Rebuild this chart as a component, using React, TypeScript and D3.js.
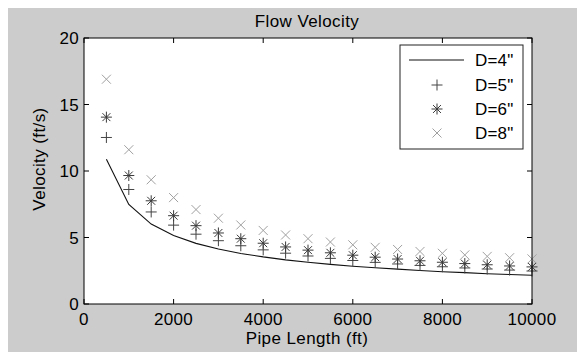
import React from "react";
import * as d3 from "d3";

const lengths = [500, 1000, 1500, 2000, 2500, 3000, 3500, 4000, 4500, 5000, 5500, 6000, 6500, 7000, 7500, 8000, 8500, 9000, 9500, 10000];
const v4 = [10.88, 7.48, 6.01, 5.15, 4.56, 4.13, 3.8, 3.54, 3.32, 3.14, 2.98, 2.84, 2.72, 2.62, 2.52, 2.43, 2.36, 2.28, 2.22, 2.16];
const v5 = [12.52, 8.61, 6.92, 5.93, 5.25, 4.76, 4.38, 4.07, 3.82, 3.61, 3.43, 3.27, 3.13, 3.01, 2.9, 2.8, 2.71, 2.63, 2.55, 2.48];
const v6 = [14.05, 9.66, 7.76, 6.64, 5.89, 5.34, 4.91, 4.57, 4.29, 4.05, 3.85, 3.67, 3.52, 3.38, 3.25, 3.14, 3.04, 2.95, 2.86, 2.79];
const v8 = [16.9, 11.6, 9.34, 8.0, 7.1, 6.45, 5.94, 5.53, 5.19, 4.91, 4.66, 4.45, 4.26, 4.1, 3.95, 3.81, 3.69, 3.58, 3.48, 3.39];

const xTicks = [0, 2000, 4000, 6000, 8000, 10000];
const yTicks = [0, 5, 10, 15, 20];
const legendLabels = ['D=4"', 'D=5"', 'D=6"', 'D=8"'];

const W = 577;
const H = 352;
const FONT = "'Liberation Sans', Arial, Helvetica, sans-serif";

function plusPath(cx: number, cy: number, r: number) {
  return `M${cx - r},${cy}H${cx + r}M${cx},${cy - r}V${cy + r}`;
}
function crossPath(cx: number, cy: number, r: number) {
  return `M${cx - r},${cy - r}L${cx + r},${cy + r}M${cx - r},${cy + r}L${cx + r},${cy - r}`;
}
function starPath(cx: number, cy: number, r: number) {
  const d = r * 0.72;
  return plusPath(cx, cy, r) + crossPath(cx, cy, d);
}

export default function App() {
  const x = d3.scaleLinear().domain([0, 10000]).range([84, 532]);
  const y = d3.scaleLinear().domain([0, 20]).range([304, 38]);
  const line = d3
    .line<number>()
    .x((_, i) => x(lengths[i]))
    .y((d) => y(d));

  const tickLen = 5;
  const [x0, x1] = x.range();
  const [y0, y1] = y.range();

  const lgX = 400, lgY = 45, lgW = 123, lgH = 104;
  const entryY = [60, 85, 109, 133];
  const markX = 437;
  const textX = 475;

  return (
    <svg
      width={W}
      height={H}
      style={{ position: "fixed", left: 0, top: 0, display: "block" }}
      fontFamily={FONT}
    >
      <rect x={0} y={0} width={W} height={H} fill="#ffffff" />
      <rect x={8} y={8} width={W - 8} height={H - 8} fill="#cccccc" />
      <rect x={x0} y={y1} width={x1 - x0} height={y0 - y1} fill="#ffffff" />

      {/* data */}
      <path d={line(v4) || ""} fill="none" stroke="#111" strokeWidth={1.1} />
      {v5.map((v, i) => (
        <path key={"p" + i} d={plusPath(x(lengths[i]), y(v), 5.5)} stroke="#444" strokeWidth={1} fill="none" />
      ))}
      {v6.map((v, i) => (
        <path key={"s" + i} d={starPath(x(lengths[i]), y(v), 5.5)} stroke="#3a3a3a" strokeWidth={1} fill="none" />
      ))}
      {v8.map((v, i) => (
        <path key={"x" + i} d={crossPath(x(lengths[i]), y(v), 4.5)} stroke="#a0a0a0" strokeWidth={1} fill="none" />
      ))}

      {/* axes box */}
      <rect x={x0} y={y1} width={x1 - x0} height={y0 - y1} fill="none" stroke="#000" strokeWidth={1} />
      {xTicks.map((t) => (
        <g key={"xt" + t}>
          <line x1={x(t)} x2={x(t)} y1={y0} y2={y0 - tickLen} stroke="#000" />
          <line x1={x(t)} x2={x(t)} y1={y1} y2={y1 + tickLen} stroke="#000" />
          <text x={x(t)} y={325} textAnchor="middle" fontSize={17} letterSpacing={0.3} fill="#000">
            {t}
          </text>
        </g>
      ))}
      {yTicks.map((t) => (
        <g key={"yt" + t}>
          <line x1={x0} x2={x0 + tickLen} y1={y(t)} y2={y(t)} stroke="#000" />
          <line x1={x1} x2={x1 - tickLen} y1={y(t)} y2={y(t)} stroke="#000" />
          <text x={79} y={y(t)} dy="0.36em" textAnchor="end" fontSize={17} letterSpacing={0.3} fill="#000">
            {t}
          </text>
        </g>
      ))}

      {/* labels */}
      <text x={307} y={27} textAnchor="middle" fontSize={17} letterSpacing={0.4} fill="#000">
        Flow Velocity
      </text>
      <text x={307} y={344} textAnchor="middle" fontSize={17} letterSpacing={0.4} fill="#000">
        Pipe Length (ft)
      </text>
      <text
        transform={`translate(45,${(y0 + y1) / 2 - 12}) rotate(-90)`}
        textAnchor="middle"
        fontSize={17}
        letterSpacing={0.4}
        fill="#000"
      >
        Velocity (ft/s)
      </text>

      {/* legend */}
      <rect x={lgX} y={lgY} width={lgW} height={lgH} fill="#ffffff" stroke="#222" strokeWidth={1} />
      <line x1={409} x2={464} y1={entryY[0]} y2={entryY[0]} stroke="#111" strokeWidth={1.1} />
      <path d={plusPath(markX, entryY[1], 5.5)} stroke="#444" fill="none" />
      <path d={starPath(markX, entryY[2], 5.5)} stroke="#3a3a3a" fill="none" />
      <path d={crossPath(markX, entryY[3], 4.5)} stroke="#a0a0a0" fill="none" />
      {legendLabels.map((l, i) => (
        <text key={l} x={textX} y={entryY[i]} dy="0.36em" fontSize={17} letterSpacing={0.2} fill="#000">
          {l}
        </text>
      ))}
    </svg>
  );
}
